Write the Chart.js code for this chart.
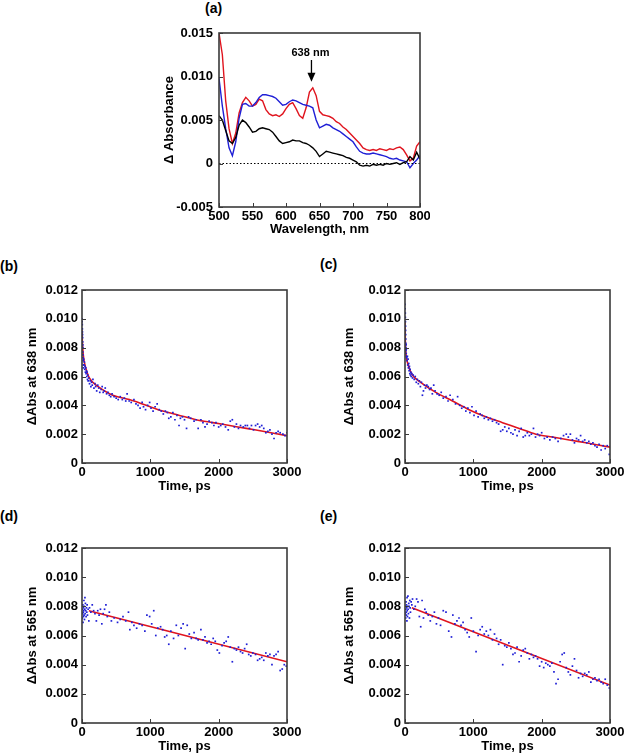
<!DOCTYPE html>
<html lang="en">
<head>
  <meta charset="UTF-8">
  <title>Transient absorption</title>
  <script src="https://cdn.jsdelivr.net/npm/chart.js"></script>
  <style>
    body { margin: 0; background: #fff; width: 625px; height: 756px; position: relative; overflow: hidden; font-family: "Liberation Sans", Arial, sans-serif; }
    canvas { position: absolute; }
    .tag { position: absolute; font-weight: bold; font-size: 14px; color: #000; }
  </style>
</head>
<body>
  <div class="tag" style="left:205px;top:0px">(a)</div>
  <div class="tag" style="left:0px;top:258px">(b)</div>
  <div class="tag" style="left:320px;top:256px">(c)</div>
  <div class="tag" style="left:0px;top:508px">(d)</div>
  <div class="tag" style="left:320px;top:508px">(e)</div>

  <canvas id="chartA" style="left:150px;top:20px" width="280" height="220"></canvas>
  <canvas id="chartB" style="left:0px;top:280px" width="312" height="215"></canvas>
  <canvas id="chartC" style="left:320px;top:280px" width="305" height="215"></canvas>
  <canvas id="chartD" style="left:0px;top:538px" width="312" height="218"></canvas>
  <canvas id="chartE" style="left:320px;top:538px" width="305" height="218"></canvas>

  <script>
    // (a) spectra
    const wavelengths = [500,505,510,515,520,525,530,535,540,545,550,555,560,565,570,575,580,585,590,595,600,605,610,615,620,625,630,635,640,645,650,655,660,665,670,675,680,685,690,695,700,705,710,715,720,725,730,735,740,745,750,755,760,765,770,775,780,785,790,795,800];
    const specRed = [0.0150,0.0125,0.0072,0.0040,0.0023,0.0035,0.0058,0.0070,0.0076,0.0072,0.0066,0.0068,0.0074,0.0072,0.0062,0.0057,0.0055,0.0056,0.0054,0.0057,0.0063,0.0068,0.0070,0.0063,0.0055,0.0052,0.0064,0.0082,0.0087,0.0078,0.0060,0.0056,0.0055,0.0054,0.0052,0.0048,0.0046,0.0042,0.0039,0.0035,0.0031,0.0027,0.0023,0.0018,0.0016,0.0015,0.0016,0.0015,0.0017,0.0016,0.0015,0.0017,0.0016,0.0018,0.0019,0.0016,0.0010,0.0003,0.0006,0.0020,0.0025];
    const specBlue = [0.0098,0.0066,0.0040,0.0018,0.0009,0.0025,0.0052,0.0068,0.0069,0.0066,0.0066,0.0070,0.0076,0.0079,0.0079,0.0078,0.0077,0.0075,0.0071,0.0067,0.0068,0.0071,0.0073,0.0072,0.0070,0.0068,0.0067,0.0066,0.0064,0.0050,0.0041,0.0043,0.0045,0.0044,0.0041,0.0039,0.0037,0.0034,0.0031,0.0028,0.0025,0.0019,0.0014,0.0012,0.0011,0.0011,0.0012,0.0011,0.0010,0.0009,0.0008,0.0006,0.0005,0.0006,0.0004,0.0003,0.0002,-0.0005,0.0000,0.0004,0.0009];
    const specBlack = [0.0055,0.0050,0.0038,0.0026,0.0023,0.0030,0.0044,0.0050,0.0047,0.0042,0.0036,0.0037,0.0040,0.0041,0.0040,0.0039,0.0036,0.0031,0.0026,0.0023,0.0024,0.0025,0.0027,0.0026,0.0026,0.0024,0.0023,0.0021,0.0018,0.0014,0.0008,0.0011,0.0014,0.0013,0.0012,0.0011,0.0010,0.0009,0.0007,0.0006,0.0004,0.0002,-0.0002,-0.0003,-0.0002,-0.0003,-0.0001,-0.0002,-0.0001,-0.0002,0.0000,-0.0001,0.0000,0.0001,-0.0001,0.0001,0.0002,0.0008,0.0004,0.0013,0.0005];
    const peakLabel = '638 nm';
    const peakNm = 638;

    // (b) 638 nm kinetics
    const bTime = [0,2,4,5,6,8,9,10,12,13,14,15,16,18,19,20,25,30,35,40,45,50,55,60,65,70,75,80,85,90,100,110,120,130,140,150,160,175,190,200,215,230,245,260,280,295,310,325,340,360,380,400,420,440,470,500,530,560,590,620,640,660,690,720,760,790,820,850,880,900,930,960,990,1010,1040,1070,1100,1130,1160,1190,1220,1250,1270,1300,1330,1360,1390,1420,1440,1470,1500,1530,1560,1590,1640,1670,1700,1740,1770,1800,1830,1860,1900,1930,1960,2000,2030,2060,2100,2140,2170,2200,2230,2260,2290,2320,2360,2390,2420,2450,2480,2510,2540,2570,2600,2630,2660,2690,2720,2750,2780,2810,2840,2870,2900,2940,2970,3000];
    const bAbs = [0.0100,0.0098,0.0096,0.0093,0.0091,0.0089,0.0087,0.0084,0.0082,0.0080,0.0077,0.0075,0.0073,0.0071,0.0068,0.0066,0.0072,0.0068,0.0070,0.0065,0.0067,0.0063,0.0066,0.0062,0.0064,0.0060,0.0063,0.0058,0.0061,0.0057,0.0059,0.0055,0.0057,0.0053,0.0056,0.0054,0.0058,0.0052,0.0055,0.0053,0.0050,0.0054,0.0052,0.0049,0.0051,0.0053,0.0049,0.0050,0.0052,0.0048,0.0049,0.0047,0.0046,0.0048,0.0046,0.0045,0.0044,0.0046,0.0044,0.0045,0.0043,0.0048,0.0043,0.0042,0.0044,0.0041,0.0040,0.0038,0.0042,0.0039,0.0037,0.0040,0.0042,0.0038,0.0036,0.0039,0.0041,0.0037,0.0036,0.0034,0.0036,0.0035,0.0031,0.0032,0.0035,0.0030,0.0033,0.0026,0.0031,0.0032,0.0030,0.0024,0.0032,0.0031,0.0029,0.0030,0.0024,0.0030,0.0028,0.0025,0.0027,0.0029,0.0028,0.0026,0.0028,0.0025,0.0026,0.0027,0.0025,0.0023,0.0029,0.0030,0.0025,0.0027,0.0024,0.0026,0.0025,0.0026,0.0026,0.0024,0.0026,0.0023,0.0026,0.0027,0.0025,0.0026,0.0024,0.0021,0.0022,0.0023,0.0020,0.0017,0.0021,0.0022,0.0021,0.0020,0.0019,0.0021];
    const bFitTime = [0,10,34,107,205,450,694,938,1182,1427,1671,1915,2160,2404,2648,3000];
    const bFitAbs = [0.0092,0.0080,0.0070,0.0059,0.0054,0.0047,0.0044,0.0040,0.0036,0.0033,0.0030,0.0028,0.0026,0.0024,0.0022,0.0019];

    // (c) 638 nm kinetics
    const cTime = [0,2,4,5,6,8,9,10,12,13,14,15,16,18,19,20,25,30,35,40,45,50,55,60,65,70,75,80,85,90,100,110,120,135,150,165,180,195,210,225,240,255,270,285,300,320,340,360,380,400,420,440,470,500,530,560,600,630,660,700,740,770,800,830,860,890,920,950,980,1010,1040,1070,1100,1130,1160,1190,1220,1250,1280,1310,1340,1370,1400,1430,1460,1490,1520,1550,1580,1610,1640,1670,1700,1730,1760,1790,1820,1850,1880,1910,1940,1970,2000,2040,2080,2120,2160,2200,2240,2280,2320,2360,2390,2420,2450,2480,2510,2540,2570,2600,2630,2660,2690,2720,2750,2780,2810,2840,2870,2900,2930,2960,2990];
    const cAbs = [0.0110,0.0107,0.0104,0.0101,0.0098,0.0095,0.0092,0.0089,0.0086,0.0083,0.0080,0.0078,0.0082,0.0076,0.0079,0.0074,0.0073,0.0071,0.0074,0.0068,0.0072,0.0066,0.0069,0.0064,0.0067,0.0062,0.0065,0.0061,0.0063,0.0060,0.0062,0.0059,0.0061,0.0058,0.0060,0.0056,0.0058,0.0055,0.0057,0.0053,0.0056,0.0047,0.0050,0.0054,0.0052,0.0054,0.0053,0.0051,0.0052,0.0048,0.0054,0.0050,0.0048,0.0047,0.0049,0.0045,0.0046,0.0043,0.0047,0.0044,0.0041,0.0046,0.0040,0.0038,0.0039,0.0036,0.0038,0.0035,0.0039,0.0033,0.0036,0.0032,0.0034,0.0033,0.0031,0.0032,0.0030,0.0031,0.0029,0.0030,0.0028,0.0027,0.0022,0.0023,0.0025,0.0022,0.0024,0.0021,0.0020,0.0023,0.0019,0.0022,0.0024,0.0018,0.0019,0.0021,0.0019,0.0020,0.0024,0.0018,0.0020,0.0019,0.0021,0.0017,0.0018,0.0016,0.0018,0.0017,0.0015,0.0017,0.0019,0.0020,0.0018,0.0020,0.0016,0.0014,0.0017,0.0016,0.0019,0.0015,0.0016,0.0014,0.0015,0.0013,0.0014,0.0012,0.0011,0.0013,0.0009,0.0012,0.0010,0.0012,0.0006];
    const cFitTime = [0,10,34,107,254,450,694,938,1182,1427,1671,1915,2160,2404,2648,3000];
    const cFitAbs = [0.0098,0.0078,0.0070,0.0061,0.0055,0.0049,0.0043,0.0037,0.0032,0.0028,0.0024,0.0020,0.0018,0.0016,0.0014,0.0011];

    // (d) 565 nm kinetics
    const dPoints = [[5,0.0072],[8,0.0078],[10,0.0075],[12,0.0081],[15,0.0069],[18,0.0076],[20,0.0079],[22,0.0073],[25,0.0077],[28,0.0084],[30,0.0074],[33,0.0080],[36,0.0071],[40,0.0078],[43,0.0086],[46,0.0075],[50,0.0082],[55,0.0077],[60,0.0073],[65,0.0079],[70,0.0076],[75,0.0081],[80,0.0074],[90,0.0078],[100,0.0070],[110,0.0079],[130,0.0076],[150,0.0081],[170,0.0077],[190,0.0075],[210,0.0070],[230,0.0077],[250,0.0074],[270,0.0078],[290,0.0068],[310,0.0075],[330,0.0078],[350,0.0081],[370,0.0073],[400,0.0076],[430,0.0070],[470,0.0072],[520,0.0069],[560,0.0071],[600,0.0073],[640,0.0070],[680,0.0076],[700,0.0064],[730,0.0069],[760,0.0067],[800,0.0065],[840,0.0068],[880,0.0067],[920,0.0063],[950,0.0074],[990,0.0073],[1020,0.0068],[1050,0.0077],[1080,0.0060],[1110,0.0065],[1150,0.0066],[1180,0.0064],[1210,0.0059],[1240,0.0060],[1270,0.0054],[1300,0.0063],[1340,0.0058],[1380,0.0067],[1410,0.0060],[1450,0.0065],[1480,0.0068],[1510,0.0051],[1540,0.0067],[1570,0.0061],[1600,0.0058],[1640,0.0062],[1670,0.0058],[1700,0.0057],[1740,0.0064],[1770,0.0057],[1800,0.0059],[1830,0.0055],[1860,0.0056],[1890,0.0054],[1920,0.0058],[1950,0.0056],[1980,0.0050],[2010,0.0048],[2050,0.0053],[2080,0.0055],[2110,0.0056],[2140,0.0059],[2170,0.0052],[2200,0.0042],[2230,0.0051],[2260,0.0050],[2290,0.0052],[2320,0.0049],[2350,0.0048],[2380,0.0051],[2410,0.0054],[2440,0.0047],[2470,0.0046],[2500,0.0048],[2540,0.0047],[2570,0.0043],[2600,0.0044],[2630,0.0045],[2660,0.0043],[2690,0.0048],[2720,0.0046],[2750,0.0047],[2780,0.0040],[2810,0.0046],[2840,0.0047],[2870,0.0049],[2900,0.0036],[2930,0.0037],[2960,0.0040],[2990,0.0039]];
    const dFit = [[100,0.0077],[3000,0.0042]];

    // (e) 565 nm kinetics
    const ePoints = [[5,0.0075],[8,0.0080],[10,0.0072],[12,0.0078],[15,0.0083],[18,0.0076],[20,0.0074],[22,0.0081],[25,0.0079],[28,0.0070],[30,0.0086],[33,0.0077],[36,0.0073],[40,0.0080],[43,0.0087],[46,0.0078],[50,0.0075],[55,0.0082],[60,0.0080],[65,0.0072],[70,0.0084],[75,0.0079],[80,0.0076],[90,0.0083],[100,0.0081],[110,0.0085],[130,0.0078],[150,0.0080],[170,0.0085],[190,0.0083],[210,0.0073],[230,0.0066],[250,0.0084],[270,0.0072],[290,0.0078],[310,0.0076],[340,0.0074],[370,0.0070],[400,0.0073],[430,0.0076],[460,0.0068],[490,0.0072],[520,0.0067],[560,0.0077],[600,0.0076],[640,0.0063],[680,0.0059],[700,0.0074],[730,0.0068],[760,0.0070],[790,0.0072],[820,0.0067],[850,0.0069],[880,0.0064],[910,0.0062],[940,0.0059],[970,0.0072],[1000,0.0063],[1040,0.0049],[1070,0.0060],[1100,0.0064],[1130,0.0066],[1160,0.0061],[1190,0.0063],[1220,0.0060],[1250,0.0064],[1280,0.0057],[1310,0.0061],[1340,0.0058],[1370,0.0054],[1400,0.0057],[1430,0.0040],[1460,0.0053],[1490,0.0052],[1520,0.0055],[1550,0.0051],[1580,0.0047],[1610,0.0048],[1640,0.0052],[1670,0.0042],[1700,0.0046],[1730,0.0050],[1760,0.0051],[1790,0.0048],[1820,0.0044],[1850,0.0047],[1880,0.0045],[1910,0.0046],[1940,0.0044],[1970,0.0039],[2000,0.0042],[2030,0.0038],[2060,0.0041],[2090,0.0040],[2120,0.0039],[2150,0.0041],[2180,0.0035],[2210,0.0027],[2240,0.0030],[2270,0.0042],[2300,0.0047],[2330,0.0048],[2360,0.0038],[2390,0.0035],[2420,0.0033],[2450,0.0039],[2480,0.0044],[2510,0.0036],[2540,0.0031],[2570,0.0034],[2600,0.0032],[2630,0.0034],[2660,0.0033],[2690,0.0035],[2720,0.0028],[2750,0.0030],[2780,0.0031],[2810,0.0029],[2840,0.0030],[2870,0.0028],[2900,0.0027],[2930,0.0030],[2960,0.0026],[2990,0.0024]];
    const eFit = [[100,0.0079],[3000,0.0026]];

    const timeTicks = [0, 1000, 2000, 3000];
    const wlTicks = [500, 550, 600, 650, 700, 750, 800];
    const kinTicks = [0, 0.002, 0.004, 0.006, 0.008, 0.010, 0.012];
    const specTicks = [-0.005, 0, 0.005, 0.010, 0.015];

    const RED = '#e0141e';
    const BLUE = '#1f1fd6';
    const FONT = { family: '"Liberation Sans", Arial, sans-serif', weight: 'bold', size: 13 };

    const zip = (xs, ys) => xs.slice(0, Math.min(xs.length, ys.length)).map((x, i) => ({ x: x, y: ys[i] }));
    const pairs = arr => arr.map(p => ({ x: p[0], y: p[1] }));
    const fmt = v => Math.abs(v) < 1e-9 ? '0' : v.toFixed(3);

    // box round the plot and short inward ticks on left/bottom
    const framePlugin = {
      id: 'frame',
      afterDatasetsDraw(chart) {
        const { ctx, chartArea: a, scales } = chart;
        ctx.save();
        ctx.strokeStyle = '#3a3a3a';
        ctx.lineWidth = 1;
        scales.x.ticks.forEach(t => {
          const px = Math.round(scales.x.getPixelForValue(t.value)) + 0.5;
          ctx.beginPath(); ctx.moveTo(px, a.bottom); ctx.lineTo(px, a.bottom - 4); ctx.stroke();
        });
        scales.y.ticks.forEach(t => {
          const py = Math.round(scales.y.getPixelForValue(t.value)) + 0.5;
          ctx.beginPath(); ctx.moveTo(a.left, py); ctx.lineTo(a.left + 4, py); ctx.stroke();
        });
        ctx.lineWidth = 1.6;
        ctx.strokeRect(a.left, a.top, a.right - a.left, a.bottom - a.top);
        ctx.restore();
      }
    };

    const arrowPlugin = {
      id: 'arrow',
      afterDatasetsDraw(chart) {
        if (chart.canvas.id !== 'chartA') return;
        const { ctx, scales } = chart;
        const x = scales.x.getPixelForValue(peakNm);
        const y0 = scales.y.getPixelForValue(0.0119);
        const y1 = scales.y.getPixelForValue(0.0094);
        ctx.save();
        ctx.fillStyle = '#000';
        ctx.strokeStyle = '#000';
        ctx.font = 'bold 11px "Liberation Sans", Arial, sans-serif';
        ctx.textAlign = 'center';
        ctx.textBaseline = 'middle';
        ctx.fillText(peakLabel, x - 1, scales.y.getPixelForValue(0.0127));
        ctx.lineWidth = 1.3;
        ctx.beginPath(); ctx.moveTo(x, y0); ctx.lineTo(x, y1 - 6); ctx.stroke();
        ctx.beginPath(); ctx.moveTo(x - 4, y1 - 9); ctx.lineTo(x + 4, y1 - 9); ctx.lineTo(x, y1); ctx.closePath(); ctx.fill();
        ctx.restore();
      }
    };

    function axes(o) {
      return {
        x: {
          type: 'linear', min: o.xmin, max: o.xmax,
          afterBuildTicks: s => { s.ticks = o.xticks.map(v => ({ value: v })); },
          afterFit: s => { s.height = o.xh; s.paddingLeft = 0; s.paddingRight = 0; },
          grid: { display: false, drawTicks: false },
          border: { display: false },
          ticks: { color: '#000', font: FONT, padding: o.xpad, maxRotation: 0, autoSkip: false, callback: v => String(v) },
          title: { display: true, text: o.xtitle, color: '#000', font: FONT, padding: { top: 0, bottom: o.xtp } }
        },
        y: {
          type: 'linear', min: o.ymin, max: o.ymax,
          afterBuildTicks: s => { s.ticks = o.yticks.map(v => ({ value: v })); },
          afterFit: s => { s.width = o.yw; s.paddingTop = 0; s.paddingBottom = 0; },
          grid: { display: false, drawTicks: false },
          border: { display: false },
          ticks: { color: '#000', font: FONT, padding: o.ypad, callback: fmt, autoSkip: false },
          title: { display: true, text: o.ytitle, color: '#000', font: FONT, padding: { top: o.ytp, bottom: 0 } }
        }
      };
    }

    const common = {
      responsive: false,
      animation: false,
      plugins: { legend: { display: false }, tooltip: { enabled: false } }
    };

    // (a)
    new Chart(document.getElementById('chartA'), {
      type: 'scatter',
      data: {
        datasets: [
          { data: [{ x: 500, y: 0 }, { x: 800, y: 0 }], showLine: true, borderColor: '#000', borderWidth: 1, borderDash: [1.5, 2], pointRadius: 0 },
          { data: zip(wavelengths, specBlack), showLine: true, borderColor: '#000', borderWidth: 1.4, pointRadius: 0 },
          { data: zip(wavelengths, specBlue), showLine: true, borderColor: BLUE, borderWidth: 1.4, pointRadius: 0 },
          { data: zip(wavelengths, specRed), showLine: true, borderColor: RED, borderWidth: 1.4, pointRadius: 0 }
        ]
      },
      options: Object.assign({}, common, {
        layout: { padding: { top: 13, right: 10, left: 0, bottom: 0 } },
        scales: axes({ xmin: 500, xmax: 800, xticks: wlTicks, xh: 33, xpad: 2, xtitle: 'Wavelength, nm', xtp: 3,
                       ymin: -0.005, ymax: 0.015, yticks: specTicks, yw: 69, ypad: 6, ytitle: 'Δ Absorbance', ytp: 12 })
      }),
      plugins: [framePlugin, arrowPlugin]
    });

    function kinetics(id, pts, fit, ytitle, yw, ytp, xh, xtp, rightPad) {
      new Chart(document.getElementById(id), {
        type: 'scatter',
        data: {
          datasets: [
            { data: pts, pointRadius: 1.2, pointStyle: 'rect', backgroundColor: BLUE, borderColor: BLUE, borderWidth: 0 },
            { data: fit, showLine: true, borderColor: RED, borderWidth: 1.6, pointRadius: 0, tension: 0.3 }
          ]
        },
        options: Object.assign({}, common, {
          layout: { padding: { top: 10, right: rightPad, left: 0, bottom: 0 } },
          scales: axes({ xmin: 0, xmax: 3000, xticks: timeTicks, xh: xh, xpad: 2, xtitle: 'Time, ps', xtp: xtp,
                         ymin: 0, ymax: 0.012, yticks: kinTicks, yw: yw, ypad: 4, ytitle: ytitle, ytp: ytp })
        }),
        plugins: [framePlugin]
      });
    }

    kinetics('chartB', zip(bTime, bAbs), zip(bFitTime, bFitAbs), 'ΔAbs at 638 nm', 82, 25, 32, 1, 25);
    kinetics('chartC', zip(cTime, cAbs), zip(cFitTime, cFitAbs), 'ΔAbs at 638 nm', 85, 22, 32, 1, 15);
    kinetics('chartD', pairs(dPoints), pairs(dFit), 'ΔAbs at 565 nm', 82, 25, 33, 2, 25);
    kinetics('chartE', pairs(ePoints), pairs(eFit), 'ΔAbs at 565 nm', 85, 22, 33, 2, 15);
  </script>
</body>
</html>
